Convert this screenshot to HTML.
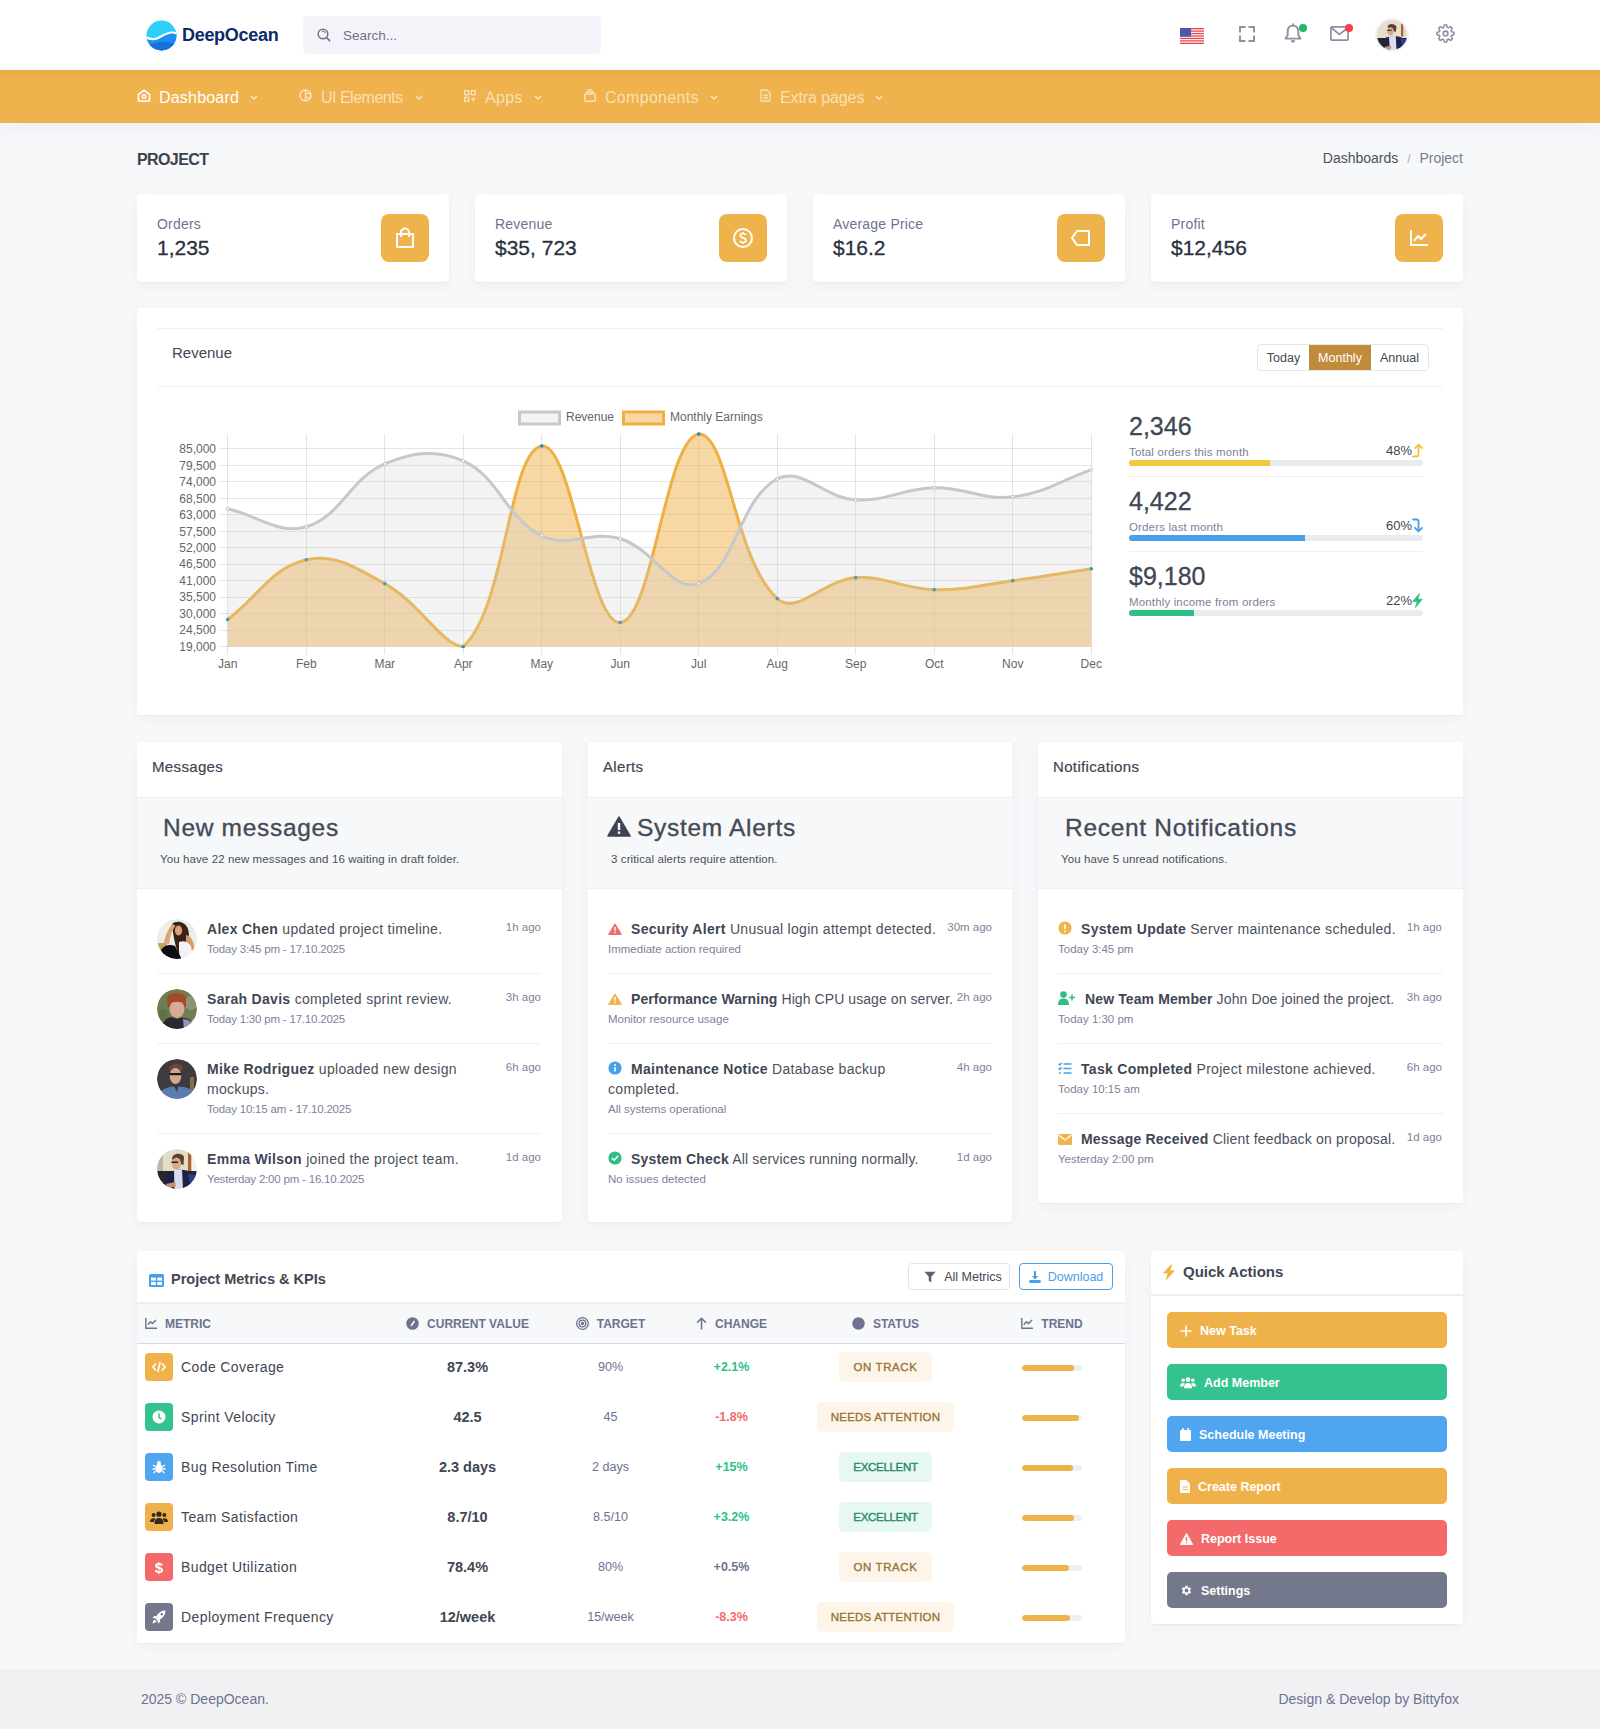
<!DOCTYPE html>
<html lang="en">
<head>
<meta charset="utf-8">
<title>DeepOcean - Project Dashboard</title>
<style>
*{box-sizing:border-box;margin:0;padding:0}
html,body{width:1600px;height:1729px;overflow:hidden}
body{font-family:"Liberation Sans",Arial,sans-serif;background:#f7f8fa;color:#3f4654;position:relative}
.abs{position:absolute}
#hdr{position:absolute;left:0;top:0;width:1600px;height:70px;background:#fff;z-index:2;box-shadow:0 2px 10px rgba(90,60,0,.07)}
#nav{position:absolute;left:0;top:70px;width:1600px;height:53px;background:#efb24c;z-index:1;box-shadow:0 6px 18px rgba(18,38,90,.045)}
.navt{position:absolute;top:19px;font-size:16px;color:rgba(255,255,255,.62);white-space:nowrap}
.chev{position:absolute;top:25px;width:8px;height:6px;fill:none;stroke:rgba(255,255,255,.7);stroke-width:1.3}
#footer{position:absolute;left:0;top:1669px;width:1600px;height:60px;background:#f1f1f4}
.card{position:absolute;background:#fff;border-radius:3px;box-shadow:0 1px 1px rgba(0,0,0,.035),0 0 1px rgba(0,0,0,.05),0 4px 14px rgba(18,38,63,.045)}
.lbl{position:absolute;left:20px;top:21.5px;font-size:14px;letter-spacing:0.2px;color:#6c7490}
.val{position:absolute;left:20px;top:42px;font-size:21px;color:#2b313c;-webkit-text-stroke:0.3px #2b313c}
.ibox{position:absolute;left:244px;top:20px;width:48px;height:48px;border-radius:8px;background:#efb34b;display:flex;align-items:center;justify-content:center}
.btng{display:flex;height:27px;border:1px solid #e3e6ea;border-radius:4px;overflow:hidden;font-size:12.5px;color:#3f4654}
.btng span{display:flex;align-items:center;justify-content:center;height:100%}
.btng span.on{background:#c08b3a;color:#fff}
.rs{width:294px;height:60px}
.rs .big{position:absolute;left:0;top:3.5px;font-size:25px;color:#3f4654;white-space:nowrap;-webkit-text-stroke:0.3px #3f4654}
.rs .sub{position:absolute;left:0;top:37.5px;font-size:11.5px;letter-spacing:0.15px;color:#7b8299;white-space:nowrap}
.rs .pct{position:absolute;right:0;top:35px;font-size:13px;color:#3f4654;display:flex;align-items:center;gap:0}
.rs .bar{position:absolute;left:0;top:52px;width:294px;height:6px;border-radius:3px;background:#e9ecef;overflow:hidden}
.rs .bar i{display:block;height:100%}
.ct{font-size:15px;letter-spacing:0.35px;color:#3f4654;-webkit-text-stroke:0.2px #3f4654}
.gz{height:92px;background:#f7f8fa;border-top:1px solid #eceef3;border-bottom:1px solid #eceef3}
.h2{font-size:24.5px;letter-spacing:0.7px;color:#444b57;white-space:nowrap;-webkit-text-stroke:0.35px #444b57}
.hs{font-size:11.5px;letter-spacing:0.1px;color:#495057;white-space:nowrap}
.avatar{width:40px;height:40px;border-radius:50%;overflow:hidden}
.it{font-size:14px;line-height:20px;letter-spacing:0.3px;color:#4a505c}
.it b{font-weight:700;color:#3f4654}
.it .ic{display:inline-block;vertical-align:-1px;margin-right:9px}
.it .ic svg{display:block}
.idt{font-size:11.5px;color:#7b8299;white-space:nowrap;line-height:18px}
.tm{font-size:11.5px;color:#7b8299;white-space:nowrap;line-height:14px}
.dv{height:1px;background:#eef0f5}
.tbtn{height:27px;border:1px solid;border-radius:4px;display:flex;align-items:center;justify-content:center;font-size:12.5px;font-weight:500;background:#fff}
.th{display:flex;align-items:center;height:14px;font-size:12px;font-weight:700;color:#6c7290;letter-spacing:0;white-space:nowrap}
.th svg{margin-right:8px}
.mi{width:28px;height:28px;border-radius:4px;display:flex;align-items:center;justify-content:center}
.mn{font-size:14px;letter-spacing:0.4px;color:#3f4654;line-height:20px;white-space:nowrap}
.mc{width:160px;text-align:center;line-height:20px;white-space:nowrap;display:flex;justify-content:center;align-items:center}
.cv{font-size:14.5px;font-weight:700;color:#3f4654}
.tg{font-size:12.5px;color:#6c7290}
.chg{font-size:12.5px;font-weight:700}
.badge{display:inline-flex;align-items:center;height:30px;padding:0 14px;border-radius:5px;font-size:11.5px;letter-spacing:0.6px;-webkit-text-stroke:0.35px currentColor}
.bt{background:#fdf5ea;color:#9a7433}
.be{background:#e7f7f1;color:#1f8a67}
.tb{width:60px;height:6px;border-radius:3px;background:#eef0f4;overflow:hidden}
.tb i{display:block;height:100%;background:#efb24b;border-radius:3px}
.qb{width:280px;height:36px;border-radius:5px;color:#fff;font-size:12.5px;font-weight:700;display:flex;align-items:center;padding-left:13px;padding-top:1px}
.qi{display:inline-flex;margin-right:8px}
.ft{position:absolute;top:1690.5px;line-height:16px;font-size:14px;color:#6c7290}


</style>
</head>
<body>
<div id="hdr">
  <svg class="abs" style="left:146px;top:20px" width="31" height="31" viewBox="0 0 31 31">
    <defs><clipPath id="lc"><circle cx="15.5" cy="15.5" r="15"/></clipPath></defs>
    <g clip-path="url(#lc)">
      <rect width="31" height="31" fill="#2ccff8"/>
      <path d="M0 18 C4 20 8 20.5 12 18.5 C17 16 21 13 26 13 C28 13 30 13.5 31 14 L31 31 L0 31Z" fill="#1b8ef2"/>
      <path d="M0 27 C6 23 13 21.5 20 22 C25 22.5 28 23.5 31 25 L31 31 L0 31Z" fill="#1670d8"/>
      <path d="M-1 17 C4 19.5 8 20 12 18 C17 15.5 21 12.5 26 12.5 C28 12.5 30 13 32 14" fill="none" stroke="#fff" stroke-width="2.2"/>
    </g>
  </svg>
  <div class="abs" style="left:182px;top:24.5px;font-size:18px;font-weight:700;color:#0c2a66;letter-spacing:-0.3px">DeepOcean</div>
  <div class="abs" style="left:303px;top:16px;width:298px;height:38px;background:#f3f3f9;border-radius:5px"></div>
  <svg class="abs" style="left:317px;top:28px" width="14" height="14" viewBox="0 0 14 14" fill="none" stroke="#6e7487" stroke-width="1.5"><circle cx="6" cy="6" r="4.8"/><path d="M9.6 9.6 L12.6 12.6" stroke-linecap="round"/><path d="M5 3.4 A2.8 2.8 0 0 1 8.4 5" stroke-width="1.1"/></svg>
  <div class="abs" style="left:343px;top:28px;font-size:13.5px;color:#6e7487">Search...</div>
  <!-- flag -->
  <svg class="abs" style="left:1180px;top:28px" width="24" height="16" viewBox="0 0 24 16">
    <rect width="24" height="16" fill="#fff"/>
    <g fill="#e8444b"><rect y="0" width="24" height="1.3"/><rect y="2.45" width="24" height="1.3"/><rect y="4.9" width="24" height="1.3"/><rect y="7.35" width="24" height="1.3"/><rect y="9.8" width="24" height="1.3"/><rect y="12.25" width="24" height="1.3"/><rect y="14.7" width="24" height="1.3"/></g>
    <rect width="11" height="8.6" fill="#4a58a8"/>
  </svg>
  <!-- fullscreen -->
  <svg class="abs" style="left:1238px;top:25px" width="18" height="18" viewBox="0 0 18 18" fill="none" stroke="#8c91a0" stroke-width="1.9"><path d="M2 7.5 V2 H7.5 M10.5 2 H16 V7.5 M16 10.5 V16 H10.5 M7.5 16 H2 V10.5"/></svg>
  <!-- bell -->
  <svg class="abs" style="left:1284px;top:23px" width="18" height="21" viewBox="0 0 18 21" fill="none" stroke="#8c91a0" stroke-width="1.9"><path d="M9 2.6 C5.6 2.6 3.7 5 3.7 8.5 V12.3 L1.5 15.6 H16.5 L14.3 12.3 V8.5 C14.3 5 12.4 2.6 9 2.6Z" stroke-linejoin="round"/><path d="M9 1.2 V2.6" stroke-linecap="round"/><path d="M7 17.8 L9 19.6 L11 17.8Z" fill="#8c91a0" stroke-width="1"/></svg>
  <div class="abs" style="left:1299px;top:24px;width:8px;height:8px;border-radius:50%;background:#22b36e"></div>
  <!-- mail -->
  <svg class="abs" style="left:1330px;top:26px" width="19" height="15" viewBox="0 0 19 15" fill="none" stroke="#8c91a0" stroke-width="1.7"><rect x="0.9" y="0.9" width="17.2" height="13.2" rx="1"/><path d="M1 1.5 L9.5 8.5 L18 1.5"/></svg>
  <div class="abs" style="left:1345px;top:24px;width:8px;height:8px;border-radius:50%;background:#f2404f"></div>
  <!-- avatar -->
  <div class="abs" style="left:1375px;top:18px;width:34px;height:34px;border-radius:50%;background:#f3f4f8"></div>
  <div class="abs" style="left:1377px;top:20px;width:30px;height:30px"><svg width="30" height="30" viewBox="0 0 40 40"><defs><clipPath id="hc4"><circle cx="20" cy="20" r="20"/></clipPath><filter id="hf4" x="-10%" y="-10%" width="120%" height="120%"><feGaussianBlur stdDeviation="0.7"/></filter></defs><g clip-path="url(#hc4)"><g filter="url(#hf4)"><rect x="-2" y="-2" width="44" height="44" fill="#e6dfcc"/><rect x="32" y="4" width="3" height="18" fill="#b0622a"/><rect x="-2" y="24" width="44" height="20" fill="#2a2a2c"/><path d="M14 9 C15 4 24 4 26 9 L25 16 L16 12Z" fill="#5a4030"/><ellipse cx="18" cy="15" rx="4.2" ry="5.5" fill="#d8a888"/><rect x="13.5" y="13" width="6" height="1.4" fill="#222"/><path d="M8 26 C12 22 28 20 34 24 L38 40 L6 40Z" fill="#1f2542"/><path d="M31 24 L40 26 L40 34 L33 34Z" fill="#2b3c8e"/><path d="M16 22 L25 21 L26 40 L17 40Z" fill="#dcdcf2"/><path d="M10 36 L18 34 L19 38 L11 40Z" fill="#c89070"/></g></g></svg></div>
  <!-- gear -->
  <svg class="abs" style="left:1436px;top:24px" width="19" height="19" viewBox="0 0 24 24" fill="none" stroke="#8c91a0" stroke-width="2"><circle cx="12" cy="12" r="3"/><path d="M19.4 15a1.65 1.65 0 0 0 .33 1.82l.06.06a2 2 0 0 1-2.83 2.83l-.06-.06a1.65 1.65 0 0 0-1.82-.33 1.65 1.65 0 0 0-1 1.51V21a2 2 0 0 1-4 0v-.09A1.65 1.65 0 0 0 9 19.4a1.65 1.65 0 0 0-1.82.33l-.06.06a2 2 0 0 1-2.83-2.83l.06-.06A1.65 1.65 0 0 0 4.68 15a1.65 1.65 0 0 0-1.51-1H3a2 2 0 0 1 0-4h.09A1.65 1.65 0 0 0 4.6 9a1.65 1.65 0 0 0-.33-1.82l-.06-.06a2 2 0 0 1 2.83-2.83l.06.06A1.65 1.65 0 0 0 9 4.68a1.65 1.65 0 0 0 1-1.51V3a2 2 0 0 1 4 0v.09a1.65 1.65 0 0 0 1 1.51 1.65 1.65 0 0 0 1.82-.33l.06-.06a2 2 0 0 1 2.83 2.83l-.06.06A1.65 1.65 0 0 0 19.4 9a1.65 1.65 0 0 0 1.51 1H21a2 2 0 0 1 0 4h-.09a1.65 1.65 0 0 0-1.51 1z"/></svg>
</div>

<div id="nav">
  <svg class="abs" style="left:137px;top:19px" width="14" height="13" viewBox="0 0 14 13" fill="none" stroke="#fff" stroke-width="1.6"><path d="M1.5 5.5 L7 1.2 L12.5 5.5 V12 H1.5Z" stroke-linejoin="round"/><circle cx="7" cy="7.5" r="1.7"/></svg>
  <div class="navt" style="left:159px;color:#fff;letter-spacing:0.2px">Dashboard</div>
  <svg class="chev" style="left:250px"><path d="M1 1 L4 4 L7 1"/></svg>
  <svg class="abs" style="left:299px;top:19px" width="13" height="13" viewBox="0 0 13 13" fill="none" stroke="rgba(255,255,255,.6)" stroke-width="1.5"><circle cx="6.5" cy="6.5" r="5.5"/><path d="M6.5 1 V12 M6.5 4.5 H11.5 M6.5 8.5 H11.5"/></svg>
  <div class="navt" style="left:321px;letter-spacing:-0.5px">UI Elements</div>
  <svg class="chev" style="left:415px"><path d="M1 1 L4 4 L7 1"/></svg>
  <svg class="abs" style="left:464px;top:20px" width="12" height="12" viewBox="0 0 12 12" fill="none" stroke="rgba(255,255,255,.6)" stroke-width="1.4"><rect x="0.7" y="0.7" width="4" height="4"/><rect x="7.3" y="0.7" width="4" height="4"/><rect x="0.7" y="7.3" width="4" height="4"/><path d="M7.3 9.3 H11.3 M9.3 7.3 V11.3"/></svg>
  <div class="navt" style="left:485px;letter-spacing:0.3px">Apps</div>
  <svg class="chev" style="left:534px"><path d="M1 1 L4 4 L7 1"/></svg>
  <svg class="abs" style="left:584px;top:19px" width="12" height="13" viewBox="0 0 12 13" fill="none" stroke="rgba(255,255,255,.6)" stroke-width="1.4"><rect x="0.7" y="5" width="10.6" height="7.3" rx="1"/><path d="M2 3 H10 M3.5 1 H8.5"/></svg>
  <div class="navt" style="left:605px;letter-spacing:0.3px">Components</div>
  <svg class="chev" style="left:710px"><path d="M1 1 L4 4 L7 1"/></svg>
  <svg class="abs" style="left:760px;top:19px" width="11" height="13" viewBox="0 0 11 13" fill="none" stroke="rgba(255,255,255,.6)" stroke-width="1.3"><path d="M1 1 H7 L10 4 V12 H1Z"/><path d="M3 6.5 H8 M3 9 H8"/></svg>
  <div class="navt" style="left:780px;letter-spacing:-0.1px">Extra pages</div>
  <svg class="chev" style="left:875px"><path d="M1 1 L4 4 L7 1"/></svg>
</div>

<div class="abs" style="left:137px;top:150.5px;font-size:16px;font-weight:700;color:#3b414d;letter-spacing:-0.6px">PROJECT</div>
<div class="abs" style="left:1200px;width:263px;top:150px;text-align:right;font-size:14px;color:#495057">Dashboards <span style="color:#a0a6b4;margin:0 5px;font-size:12px">/</span> <span style="color:#747b8e">Project</span></div>

<div class="card" style="left:137px;top:194px;width:312px;height:88px">
  <div class="lbl">Orders</div><div class="val">1,235</div>
  <div class="ibox"><svg width="20" height="22" viewBox="0 0 20 22" fill="none" stroke="#fff" stroke-width="2"><rect x="2" y="7" width="16" height="13"/><path d="M6 10 V5.5 A4 4 0 0 1 14 5.5 V10"/></svg></div>
</div>
<div class="card" style="left:475px;top:194px;width:312px;height:88px">
  <div class="lbl">Revenue</div><div class="val">$35, 723</div>
  <div class="ibox"><svg width="22" height="22" viewBox="0 0 22 22" fill="none" stroke="#fff" stroke-width="2"><circle cx="11" cy="11" r="9"/><path d="M13.8 8 C13.3 7 12.3 6.5 11 6.5 C9.3 6.5 8.3 7.4 8.3 8.6 C8.3 11.4 13.9 10.3 13.9 13.3 C13.9 14.6 12.8 15.5 11 15.5 C9.6 15.5 8.5 14.9 8 13.8 M11 5 V6.5 M11 15.5 V17" stroke-width="1.7"/></svg></div>
</div>
<div class="card" style="left:813px;top:194px;width:312px;height:88px">
  <div class="lbl">Average Price</div><div class="val">$16.2</div>
  <div class="ibox"><svg width="22" height="18" viewBox="0 0 22 18" fill="none" stroke="#fff" stroke-width="2" stroke-linejoin="round"><path d="M7 2 H19 V16 H7 L2 9Z"/></svg></div>
</div>
<div class="card" style="left:1151px;top:194px;width:312px;height:88px">
  <div class="lbl">Profit</div><div class="val">$12,456</div>
  <div class="ibox"><svg width="20" height="18" viewBox="0 0 20 18" fill="none" stroke="#fff" stroke-width="2"><path d="M2 1 V16 H19"/><path d="M5 12 L9 7 L12 10 L17 5" stroke-linejoin="round"/></svg></div>
</div>

<div class="card" style="left:137px;top:308px;width:1326px;height:407px">
  <div class="abs" style="left:20px;top:20px;width:1286px;height:1px;background:#eef0f5"></div>
  <div class="abs" style="left:20px;top:78px;width:1286px;height:1px;background:#eef0f5"></div>
  <div class="abs" style="left:35px;top:36px;font-size:15px;font-weight:500;color:#414855">Revenue</div>
  <div class="abs btng" style="left:1120px;top:36px">
    <span style="width:51px">Today</span><span class="on" style="width:62px">Monthly</span><span style="width:57px">Annual</span>
  </div>
</div>

<svg class="abs" style="left:0;top:0" width="1600" height="720" viewBox="0 0 1600 720">
<g stroke="rgba(0,0,0,0.1)" stroke-width="1" fill="none">
<line x1="219.5" y1="646.5" x2="1091.5" y2="646.5"/>
<line x1="219.5" y1="630.5" x2="1091.5" y2="630.5"/>
<line x1="219.5" y1="613.5" x2="1091.5" y2="613.5"/>
<line x1="219.5" y1="597.5" x2="1091.5" y2="597.5"/>
<line x1="219.5" y1="580.5" x2="1091.5" y2="580.5"/>
<line x1="219.5" y1="564.5" x2="1091.5" y2="564.5"/>
<line x1="219.5" y1="547.5" x2="1091.5" y2="547.5"/>
<line x1="219.5" y1="531.5" x2="1091.5" y2="531.5"/>
<line x1="219.5" y1="514.5" x2="1091.5" y2="514.5"/>
<line x1="219.5" y1="498.5" x2="1091.5" y2="498.5"/>
<line x1="219.5" y1="481.5" x2="1091.5" y2="481.5"/>
<line x1="219.5" y1="465.5" x2="1091.5" y2="465.5"/>
<line x1="219.5" y1="448.5" x2="1091.5" y2="448.5"/>
<line x1="227.5" y1="434" x2="227.5" y2="654.5"/>
<line x1="306.5" y1="434" x2="306.5" y2="654.5"/>
<line x1="384.5" y1="434" x2="384.5" y2="654.5"/>
<line x1="463.5" y1="434" x2="463.5" y2="654.5"/>
<line x1="541.5" y1="434" x2="541.5" y2="654.5"/>
<line x1="620.5" y1="434" x2="620.5" y2="654.5"/>
<line x1="698.5" y1="434" x2="698.5" y2="654.5"/>
<line x1="777.5" y1="434" x2="777.5" y2="654.5"/>
<line x1="855.5" y1="434" x2="855.5" y2="654.5"/>
<line x1="934.5" y1="434" x2="934.5" y2="654.5"/>
<line x1="1012.5" y1="434" x2="1012.5" y2="654.5"/>
<line x1="1091.5" y1="434" x2="1091.5" y2="654.5"/>
</g>
<g font-family="Liberation Sans, Arial, sans-serif" font-size="12" fill="#666" text-anchor="end">
<text x="216" y="650.7">19,000</text>
<text x="216" y="634.2">24,500</text>
<text x="216" y="617.8">30,000</text>
<text x="216" y="601.3">35,500</text>
<text x="216" y="584.9">41,000</text>
<text x="216" y="568.4">46,500</text>
<text x="216" y="551.9">52,000</text>
<text x="216" y="535.5">57,500</text>
<text x="216" y="519.0">63,000</text>
<text x="216" y="502.5">68,500</text>
<text x="216" y="486.1">74,000</text>
<text x="216" y="469.6">79,500</text>
<text x="216" y="453.2">85,000</text>
</g>
<g font-family="Liberation Sans, Arial, sans-serif" font-size="12" fill="#666" text-anchor="middle">
<text x="227.75" y="668">Jan</text>
<text x="306.25" y="668">Feb</text>
<text x="384.75" y="668">Mar</text>
<text x="463.25" y="668">Apr</text>
<text x="541.75" y="668">May</text>
<text x="620.25" y="668">Jun</text>
<text x="698.75" y="668">Jul</text>
<text x="777.25" y="668">Aug</text>
<text x="855.75" y="668">Sep</text>
<text x="934.25" y="668">Oct</text>
<text x="1012.75" y="668">Nov</text>
<text x="1091.25" y="668">Dec</text>
</g>
<path d="M227.75 619.56 C259.15 595.62 271.96 567.55 306.25 559.70 C334.76 553.18 356.53 568.05 384.75 583.65 C419.33 602.76 443.26 646.50 463.25 646.50 C506.06 608.96 508.65 451.02 541.75 445.97 C571.45 441.44 589.72 624.88 620.25 622.56 C652.52 620.10 665.57 439.06 698.75 434.00 C728.37 434.00 733.80 558.86 777.25 598.61 C796.60 616.32 823.99 579.48 855.75 577.66 C886.79 575.89 902.77 589.03 934.25 589.63 C965.57 590.23 981.43 584.83 1012.75 580.65 C1044.23 576.45 1059.85 573.47 1091.25 568.68 L1091.25 646.50 L227.75 646.50 Z" fill="rgba(239,178,75,0.5)"/>
<path d="M227.75 619.56 C259.15 595.62 271.96 567.55 306.25 559.70 C334.76 553.18 356.53 568.05 384.75 583.65 C419.33 602.76 443.26 646.50 463.25 646.50 C506.06 608.96 508.65 451.02 541.75 445.97 C571.45 441.44 589.72 624.88 620.25 622.56 C652.52 620.10 665.57 439.06 698.75 434.00 C728.37 434.00 733.80 558.86 777.25 598.61 C796.60 616.32 823.99 579.48 855.75 577.66 C886.79 575.89 902.77 589.03 934.25 589.63 C965.57 590.23 981.43 584.83 1012.75 580.65 C1044.23 576.45 1059.85 573.47 1091.25 568.68" fill="none" stroke="#efb041" stroke-width="3"/>
<circle cx="227.75" cy="619.56" r="1.8" fill="#1390bd"/>
<circle cx="306.25" cy="559.70" r="1.8" fill="#1390bd"/>
<circle cx="384.75" cy="583.65" r="1.8" fill="#1390bd"/>
<circle cx="463.25" cy="646.50" r="1.8" fill="#1390bd"/>
<circle cx="541.75" cy="445.97" r="1.8" fill="#1390bd"/>
<circle cx="620.25" cy="622.56" r="1.8" fill="#1390bd"/>
<circle cx="698.75" cy="434.00" r="1.8" fill="#1390bd"/>
<circle cx="777.25" cy="598.61" r="1.8" fill="#1390bd"/>
<circle cx="855.75" cy="577.66" r="1.8" fill="#1390bd"/>
<circle cx="934.25" cy="589.63" r="1.8" fill="#1390bd"/>
<circle cx="1012.75" cy="580.65" r="1.8" fill="#1390bd"/>
<circle cx="1091.25" cy="568.68" r="1.8" fill="#1390bd"/>
<path d="M227.75 508.82 C259.15 516.01 278.32 534.77 306.25 526.78 C341.12 516.81 349.49 478.72 384.75 463.93 C412.29 452.38 436.87 448.87 463.25 460.94 C499.67 477.60 505.33 517.71 541.75 535.76 C568.13 548.84 591.06 529.85 620.25 538.75 C653.86 549.00 673.09 593.43 698.75 583.65 C735.89 569.49 738.50 499.58 777.25 478.89 C801.30 466.06 823.99 498.03 855.75 499.85 C886.79 501.62 902.77 488.47 934.25 487.87 C965.57 487.28 982.12 500.36 1012.75 496.85 C1044.92 493.17 1059.85 480.69 1091.25 469.92 L1091.25 646.50 L227.75 646.50 Z" fill="rgba(207,207,207,0.25)"/>
<path d="M227.75 508.82 C259.15 516.01 278.32 534.77 306.25 526.78 C341.12 516.81 349.49 478.72 384.75 463.93 C412.29 452.38 436.87 448.87 463.25 460.94 C499.67 477.60 505.33 517.71 541.75 535.76 C568.13 548.84 591.06 529.85 620.25 538.75 C653.86 549.00 673.09 593.43 698.75 583.65 C735.89 569.49 738.50 499.58 777.25 478.89 C801.30 466.06 823.99 498.03 855.75 499.85 C886.79 501.62 902.77 488.47 934.25 487.87 C965.57 487.28 982.12 500.36 1012.75 496.85 C1044.92 493.17 1059.85 480.69 1091.25 469.92" fill="none" stroke="#c5c8cc" stroke-width="3"/>
<circle cx="227.75" cy="508.82" r="1.5" fill="#fff" stroke="#bbb" stroke-width="0.8"/>
<circle cx="306.25" cy="526.78" r="1.5" fill="#fff" stroke="#bbb" stroke-width="0.8"/>
<circle cx="384.75" cy="463.93" r="1.5" fill="#fff" stroke="#bbb" stroke-width="0.8"/>
<circle cx="463.25" cy="460.94" r="1.5" fill="#fff" stroke="#bbb" stroke-width="0.8"/>
<circle cx="541.75" cy="535.76" r="1.5" fill="#fff" stroke="#bbb" stroke-width="0.8"/>
<circle cx="620.25" cy="538.75" r="1.5" fill="#fff" stroke="#bbb" stroke-width="0.8"/>
<circle cx="698.75" cy="583.65" r="1.5" fill="#fff" stroke="#bbb" stroke-width="0.8"/>
<circle cx="777.25" cy="478.89" r="1.5" fill="#fff" stroke="#bbb" stroke-width="0.8"/>
<circle cx="855.75" cy="499.85" r="1.5" fill="#fff" stroke="#bbb" stroke-width="0.8"/>
<circle cx="934.25" cy="487.87" r="1.5" fill="#fff" stroke="#bbb" stroke-width="0.8"/>
<circle cx="1012.75" cy="496.85" r="1.5" fill="#fff" stroke="#bbb" stroke-width="0.8"/>
<circle cx="1091.25" cy="469.92" r="1.5" fill="#fff" stroke="#bbb" stroke-width="0.8"/>
<rect x="519.5" y="412" width="40" height="12" fill="rgba(207,207,207,0.25)" stroke="#c5c8cc" stroke-width="3"/>
<text x="566" y="421" font-family="Liberation Sans, Arial, sans-serif" font-size="12" fill="#666">Revenue</text>
<rect x="623.5" y="412" width="40" height="12" fill="rgba(239,178,75,0.5)" stroke="#efb041" stroke-width="3"/>
<text x="670" y="421" font-family="Liberation Sans, Arial, sans-serif" font-size="12" fill="#666">Monthly Earnings</text>
</svg>
<div class="abs rs" style="left:1129px;top:408px">
  <div class="big">2,346</div>
  <div class="sub">Total orders this month</div>
  <div class="pct">48%<svg width="11" height="15" viewBox="0 0 11 15" fill="none" stroke="#f1c23a" stroke-width="1.8" stroke-linecap="round" stroke-linejoin="round"><path d="M1 13.5 H4.5 Q6.5 13.5 6.5 11.5 V1.8 M3 5.2 L6.5 1.6 L10 5.2"/></svg></div>
  <div class="bar"><i style="width:48%;background:#f0c93c"></i></div>
</div>
<div class="abs" style="left:1129px;top:476px;width:294px;height:1px;background:#eef0f4"></div>
<div class="abs rs" style="left:1129px;top:483px">
  <div class="big">4,422</div>
  <div class="sub">Orders last month</div>
  <div class="pct">60%<svg width="11" height="15" viewBox="0 0 11 15" fill="none" stroke="#4a9fea" stroke-width="1.8" stroke-linecap="round" stroke-linejoin="round"><path d="M1 1.5 H4.5 Q6.5 1.5 6.5 3.5 V13.2 M3 9.8 L6.5 13.4 L10 9.8"/></svg></div>
  <div class="bar"><i style="width:60%;background:#4a9fea"></i></div>
</div>
<div class="abs" style="left:1129px;top:551px;width:294px;height:1px;background:#eef0f4"></div>
<div class="abs rs" style="left:1129px;top:558px">
  <div class="big">$9,180</div>
  <div class="sub">Monthly income from orders</div>
  <div class="pct">22%<svg width="11" height="15" viewBox="0 0 11 15"><path d="M7.5 0.3 L0.6 8.6 H5 L3.4 14.7 L10.4 6.2 H6Z" fill="#2fbf85" stroke="#2fbf85" stroke-width="0.6" stroke-linejoin="round"/></svg></div>
  <div class="bar"><i style="width:22%;background:#2fbf85"></i></div>
</div>

<div class="card" style="left:137px;top:742px;width:425px;height:480px"></div>
<div class="abs ct" style="left:152px;top:758px">Messages</div>
<div class="abs gz" style="left:137px;top:797px;width:425px"></div>
<div class="abs h2" style="left:163px;top:814px">New messages</div>
<div class="abs hs" style="left:160px;top:853px">You have 22 new messages and 16 waiting in draft folder.</div>
<div class="abs avatar" style="left:157px;top:919px"><svg width="40" height="40" viewBox="0 0 40 40"><defs><clipPath id="c1"><circle cx="20" cy="20" r="20"/></clipPath><filter id="f1" x="-10%" y="-10%" width="120%" height="120%"><feGaussianBlur stdDeviation="0.5"/></filter></defs><g clip-path="url(#c1)"><g filter="url(#f1)"><rect x="-2" y="-2" width="44" height="44" fill="#eceee6"/><circle cx="8" cy="12" r="6" fill="#f3efe6"/><circle cx="32" cy="8" r="6" fill="#e6ece8"/><rect x="-2" y="24" width="12" height="16" fill="#c9a55a"/><path d="M15 5 C19 1 28 2 31 10 C33 18 32 26 28 32 L21 34 C18 26 16 16 15 5Z" fill="#3b2316"/><ellipse cx="21.5" cy="11.5" rx="3.6" ry="5" fill="#d9a27c"/><path d="M7 24 C8 16 12 8 16 5 L18.5 7 C15 11 13 17 12 25Z" fill="#dba57c"/><path d="M29 16 C34 17 37 22 37 30 L33 32 L29 24Z" fill="#d39a70"/><path d="M4 31 C7 26 13 25 18 27 L26 42 L4 42Z" fill="#111117"/><path d="M22 23 C27 21 31 23 34 27 L36 42 L25 42 L22 32Z" fill="#f5f2f7"/></g></g></svg></div>
<div class="abs it" style="left:207px;top:919px;width:290px"><b>Alex Chen</b> updated project timeline.</div>
<div class="abs idt" style="left:207px;top:940px;letter-spacing:-0.2px">Today 3:45 pm - 17.10.2025</div>
<div class="abs tm" style="right:1059px;top:920px">1h ago</div>
<div class="abs dv" style="left:157px;top:973px;width:384px"></div>
<div class="abs avatar" style="left:157px;top:989px"><svg width="40" height="40" viewBox="0 0 40 40"><defs><clipPath id="c2"><circle cx="20" cy="20" r="20"/></clipPath><filter id="f2" x="-10%" y="-10%" width="120%" height="120%"><feGaussianBlur stdDeviation="0.5"/></filter></defs><g clip-path="url(#c2)"><g filter="url(#f2)"><rect x="-2" y="-2" width="44" height="44" fill="#6f7d4f"/><circle cx="34" cy="14" r="7" fill="#8d9475"/><circle cx="6" cy="26" r="6" fill="#5f7240"/><path d="M10 9 C12 3 26 2 29 8 L29 18 L11 18Z" fill="#a4492a"/><ellipse cx="20" cy="20" rx="7.5" ry="9" fill="#d9a995"/><path d="M11 9 C14 5 27 5 29 10 L28 15 C24 12 16 12 12 15Z" fill="#a4492a"/><path d="M6 34 C10 28 14 27 20 30 C24 28 30 28 34 32 L34 42 L6 42Z" fill="#2a2830"/><path d="M26 30 C31 30 36 33 38 38 L38 42 L27 42Z" fill="#9197b6"/><circle cx="37" cy="32" r="2.2" fill="#f070c0"/></g></g></svg></div>
<div class="abs it" style="left:207px;top:989px;width:290px"><b>Sarah Davis</b> completed sprint review.</div>
<div class="abs idt" style="left:207px;top:1010px;letter-spacing:-0.2px">Today 1:30 pm - 17.10.2025</div>
<div class="abs tm" style="right:1059px;top:990px">3h ago</div>
<div class="abs dv" style="left:157px;top:1043px;width:384px"></div>
<div class="abs avatar" style="left:157px;top:1059px"><svg width="40" height="40" viewBox="0 0 40 40"><defs><clipPath id="c3"><circle cx="20" cy="20" r="20"/></clipPath><filter id="f3" x="-10%" y="-10%" width="120%" height="120%"><feGaussianBlur stdDeviation="0.5"/></filter></defs><g clip-path="url(#c3)"><g filter="url(#f3)"><rect x="-2" y="-2" width="44" height="44" fill="#3c3b3d"/><rect x="33" y="18" width="4" height="14" fill="#8a6a48"/><path d="M12 10 C12 4 24 3 26 8 L25 12 L13 13Z" fill="#6b4a32"/><ellipse cx="18.5" cy="17" rx="5.8" ry="8" fill="#d3a690"/><rect x="12.5" y="14" width="12" height="2.2" fill="#1f1a18"/><path d="M2 34 C8 28 14 27 19 28 C25 27 31 28 36 32 L36 44 L2 44Z" fill="#5b7bae"/><path d="M17 27 L21 27 L20 33Z" fill="#2c3850"/></g></g></svg></div>
<div class="abs it" style="left:207px;top:1059px;width:290px"><b>Mike Rodriguez</b> uploaded new design mockups.</div>
<div class="abs idt" style="left:207px;top:1100px;letter-spacing:-0.2px">Today 10:15 am - 17.10.2025</div>
<div class="abs tm" style="right:1059px;top:1060px">6h ago</div>
<div class="abs dv" style="left:157px;top:1133px;width:384px"></div>
<div class="abs avatar" style="left:157px;top:1149px"><svg width="40" height="40" viewBox="0 0 40 40"><defs><clipPath id="c4"><circle cx="20" cy="20" r="20"/></clipPath><filter id="f4" x="-10%" y="-10%" width="120%" height="120%"><feGaussianBlur stdDeviation="0.5"/></filter></defs><g clip-path="url(#c4)"><g filter="url(#f4)"><rect x="-2" y="-2" width="44" height="44" fill="#e4dcc8"/><rect x="-2" y="-2" width="8" height="30" fill="#bdb6a8"/><rect x="31" y="3" width="3.5" height="20" fill="#b0622a"/><rect x="34.5" y="3" width="8" height="20" fill="#f4f2ee"/><rect x="-2" y="22" width="44" height="22" fill="#262628"/><path d="M15 10 C15 4 25 3 27 8 L26.5 16 L17 13Z" fill="#5a4030"/><ellipse cx="19.5" cy="14.5" rx="4.6" ry="6" fill="#d8a888"/><rect x="14.5" y="12.5" width="6.5" height="1.5" fill="#222"/><path d="M9 26 C13 21 27 19 33 23 L37 42 L7 42Z" fill="#1d2342"/><path d="M31 25 L42 26 L42 36 L33 36Z" fill="#2b3c8e"/><path d="M17 21 L25 20.5 L26 42 L17.5 42Z" fill="#d9d9f0"/><path d="M9 35 L18 33 L19 37 L11 40Z" fill="#c89070"/></g></g></svg></div>
<div class="abs it" style="left:207px;top:1149px;width:290px"><b>Emma Wilson</b> joined the project team.</div>
<div class="abs idt" style="left:207px;top:1170px;letter-spacing:-0.2px">Yesterday 2:00 pm - 16.10.2025</div>
<div class="abs tm" style="right:1059px;top:1150px">1d ago</div>
<div class="card" style="left:588px;top:742px;width:424px;height:480px"></div>
<div class="abs ct" style="left:603px;top:758px">Alerts</div>
<div class="abs gz" style="left:588px;top:797px;width:424px"></div>
<div class="abs h2" style="left:607px;top:814px"><svg width="24" height="21" viewBox="0 0 24 21" style="margin:0 6px 0 0;vertical-align:-1px"><path d="M12 1.2 L23 20 H1Z" fill="#3e4452" stroke="#3e4452" stroke-width="1.6" stroke-linejoin="round"/><rect x="10.8" y="7" width="2.4" height="7" fill="#f7f8fa"/><rect x="10.8" y="15.5" width="2.4" height="2.4" fill="#f7f8fa"/></svg>System Alerts</div>
<div class="abs hs" style="left:611px;top:853px">3 critical alerts require attention.</div>
<div class="abs it" style="left:608px;top:919px;white-space:nowrap;letter-spacing:0.3px"><span class="ic"><svg width="14" height="12" viewBox="0 0 14 12"><path d="M7 0.8 L13.4 11.4 H0.6Z" fill="#f46a6a" stroke="#f46a6a" stroke-linejoin="round"/><rect x="6.3" y="4" width="1.4" height="3.8" fill="#fff"/><rect x="6.3" y="8.7" width="1.4" height="1.4" fill="#fff"/></svg></span><b>Security Alert</b> Unusual login attempt detected.</div>
<div class="abs idt" style="left:608px;top:940px">Immediate action required</div>
<div class="abs tm" style="right:608px;top:920px">30m ago</div>
<div class="abs dv" style="left:608px;top:973px;width:384px"></div>
<div class="abs it" style="left:608px;top:989px;white-space:nowrap;letter-spacing:0.08px"><span class="ic"><svg width="14" height="12" viewBox="0 0 14 12"><path d="M7 0.8 L13.4 11.4 H0.6Z" fill="#f1b44c" stroke="#f1b44c" stroke-linejoin="round"/><rect x="6.3" y="4" width="1.4" height="3.8" fill="#fff"/><rect x="6.3" y="8.7" width="1.4" height="1.4" fill="#fff"/></svg></span><b>Performance Warning</b> High CPU usage on server.</div>
<div class="abs idt" style="left:608px;top:1010px">Monitor resource usage</div>
<div class="abs tm" style="right:608px;top:990px">2h ago</div>
<div class="abs dv" style="left:608px;top:1043px;width:384px"></div>
<div class="abs it" style="left:608px;top:1059px;white-space:nowrap;letter-spacing:0.3px"><span class="ic"><svg width="14" height="14" viewBox="0 0 14 14"><circle cx="7" cy="7" r="6.6" fill="#4a9fea"/><rect x="6.2" y="6" width="1.6" height="4.5" fill="#fff"/><circle cx="7" cy="4" r="0.95" fill="#fff"/></svg></span><b>Maintenance Notice</b> Database backup<br>completed.</div>
<div class="abs idt" style="left:608px;top:1100px">All systems operational</div>
<div class="abs tm" style="right:608px;top:1060px">4h ago</div>
<div class="abs dv" style="left:608px;top:1133px;width:384px"></div>
<div class="abs it" style="left:608px;top:1149px;white-space:nowrap;letter-spacing:0.18px"><span class="ic"><svg width="14" height="14" viewBox="0 0 14 14"><circle cx="7" cy="7" r="6.6" fill="#2fbf85"/><path d="M4 7.2 L6.2 9.2 L10 5" fill="none" stroke="#fff" stroke-width="1.6"/></svg></span><b>System Check</b> All services running normally.</div>
<div class="abs idt" style="left:608px;top:1170px">No issues detected</div>
<div class="abs tm" style="right:608px;top:1150px">1d ago</div>
<div class="card" style="left:1038px;top:742px;width:425px;height:461px"></div>
<div class="abs ct" style="left:1053px;top:758px">Notifications</div>
<div class="abs gz" style="left:1038px;top:797px;width:425px"></div>
<div class="abs h2" style="left:1065px;top:814px">Recent Notifications</div>
<div class="abs hs" style="left:1061px;top:853px">You have 5 unread notifications.</div>
<div class="abs it" style="left:1058px;top:919px;width:345px;white-space:nowrap;letter-spacing:0.3px"><span class="ic" style="margin-right:9px"><svg width="14" height="14" viewBox="0 0 14 14"><circle cx="7" cy="7" r="6.6" fill="#f1b44c"/><rect x="6.2" y="3.3" width="1.6" height="4.8" fill="#fff"/><circle cx="7" cy="10.2" r="0.95" fill="#fff"/></svg></span><b>System Update</b> Server maintenance scheduled.</div>
<div class="abs idt" style="left:1058px;top:940px">Today 3:45 pm</div>
<div class="abs tm" style="right:158px;top:920px">1h ago</div>
<div class="abs dv" style="left:1058px;top:973px;width:385px"></div>
<div class="abs it" style="left:1058px;top:989px;width:345px;white-space:nowrap;letter-spacing:0.12px"><span class="ic" style="margin-right:9px"><svg width="18" height="14" viewBox="0 0 18 14"><circle cx="5.5" cy="3.6" r="3.3" fill="#2fbf85"/><path d="M0 14 C0 9 2.5 7.6 5.5 7.6 C8.5 7.6 11 9 11 14Z" fill="#2fbf85"/><path d="M14 3.5 V9.5 M11 6.5 H17" stroke="#2fbf85" stroke-width="1.6"/></svg></span><b>New Team Member</b> John Doe joined the project.</div>
<div class="abs idt" style="left:1058px;top:1010px">Today 1:30 pm</div>
<div class="abs tm" style="right:158px;top:990px">3h ago</div>
<div class="abs dv" style="left:1058px;top:1043px;width:385px"></div>
<div class="abs it" style="left:1058px;top:1059px;width:345px;white-space:nowrap;letter-spacing:0.3px"><span class="ic" style="margin-right:9px"><svg width="14" height="13" viewBox="0 0 14 13" fill="none" stroke="#4a9fea" stroke-width="1.4"><path d="M0.6 1.8 L1.8 3 L3.8 0.8 M0.6 6.3 L1.8 7.5 L3.8 5.3"/><path d="M5.5 2 H13.5 M5.5 6.5 H13.5 M5.5 11 H13.5"/><circle cx="2" cy="11" r="1" fill="#4a9fea" stroke="none"/></svg></span><b>Task Completed</b> Project milestone achieved.</div>
<div class="abs idt" style="left:1058px;top:1080px">Today 10:15 am</div>
<div class="abs tm" style="right:158px;top:1060px">6h ago</div>
<div class="abs dv" style="left:1058px;top:1113px;width:385px"></div>
<div class="abs it" style="left:1058px;top:1129px;width:345px;white-space:nowrap;letter-spacing:0.19px"><span class="ic" style="margin-right:9px"><svg width="14" height="11" viewBox="0 0 14 11"><rect x="0" y="0" width="14" height="11" rx="1.2" fill="#f1b44c"/><path d="M0.5 1 L7 6 L13.5 1" fill="none" stroke="#fff" stroke-width="1.2"/></svg></span><b>Message Received</b> Client feedback on proposal.</div>
<div class="abs idt" style="left:1058px;top:1150px">Yesterday 2:00 pm</div>
<div class="abs tm" style="right:158px;top:1130px">1d ago</div>
<div class="card" style="left:137px;top:1251px;width:988px;height:392px;overflow:hidden"><div class="abs" style="left:0;top:-1px;width:988px;height:393px">
<div class="abs" style="left:12px;top:23px"><svg width="15" height="13" viewBox="0 0 15 13"><rect x="0" y="0" width="15" height="13" rx="1.5" fill="#4a9fea"/><rect x="2" y="3.6" width="4.8" height="3" fill="#fff"/><rect x="8.2" y="3.6" width="4.8" height="3" fill="#fff"/><rect x="2" y="8" width="4.8" height="3" fill="#fff"/><rect x="8.2" y="8" width="4.8" height="3" fill="#fff"/></svg></div>
<div class="abs" style="left:34px;top:21px;font-size:14.5px;font-weight:700;color:#414855">Project Metrics &amp; KPIs</div>
<div class="abs tbtn" style="left:771px;top:13px;width:102px;padding-left:8px;color:#414855;border-color:#dfe2e8"><svg width="12" height="12" viewBox="0 0 12 12" style="margin-right:8px"><path d="M0.5 0.8 H11.5 L7.3 5.8 V11.5 L4.7 9.8 V5.8Z" fill="#5c6270"/></svg>All Metrics</div>
<div class="abs tbtn" style="left:882px;top:13px;width:94px;color:#4a9fea;border-color:#4a9fea"><svg width="12" height="12" viewBox="0 0 12 12" style="margin-right:7px" fill="#4a9fea"><path d="M5 0 H7 V5 H9.2 L6 8.4 L2.8 5 H5Z"/><rect x="0.3" y="9" width="11.4" height="3" rx="0.8"/></svg>Download</div>
<div class="abs" style="left:0;top:52px;width:988px;height:2px;background:#eef0f5"></div>
<div class="abs" style="left:0;top:54px;width:988px;height:39.5px;background:#f7f8fa;border-bottom:1.5px solid #d5d9e0"></div>
<div class="abs th" style="left:8px;top:66.5px"><svg width="12" height="11" viewBox="0 0 12 11" fill="none" stroke="#6c7290" stroke-width="1.4"><path d="M0.8 0 V10.2 H12"/><path d="M2.8 6.8 L5.5 3.8 L7.5 5.6 L11 2"/></svg><span>METRIC</span></div>
<div class="abs th" style="left:180.5px;width:300px;justify-content:center;top:66.5px"><svg width="13" height="13" viewBox="0 0 13 13"><circle cx="6.5" cy="6.5" r="6.3" fill="#6c7290"/><path d="M5 9 L8.5 4" stroke="#fff" stroke-width="1.5"/></svg><span>CURRENT VALUE</span></div>
<div class="abs th" style="left:323.5px;width:300px;justify-content:center;top:66.5px"><svg width="13" height="13" viewBox="0 0 13 13" fill="none" stroke="#6c7290" stroke-width="1.3"><circle cx="6.5" cy="6.5" r="5.8"/><circle cx="6.5" cy="6.5" r="3.3"/><circle cx="6.5" cy="6.5" r="1" fill="#6c7290"/></svg><span>TARGET</span></div>
<div class="abs th" style="left:444.5px;width:300px;justify-content:center;top:66.5px"><svg width="11" height="13" viewBox="0 0 11 13" fill="none" stroke="#6c7290" stroke-width="1.5"><path d="M5.5 12.5 V1.5 M1.2 5.6 L5.5 1.3 L9.8 5.6"/></svg><span>CHANGE</span></div>
<div class="abs th" style="left:598.5px;width:300px;justify-content:center;top:66.5px"><svg width="13" height="13" viewBox="0 0 13 13"><circle cx="6.5" cy="6.5" r="6.2" fill="#6c7290"/></svg><span>STATUS</span></div>
<div class="abs th" style="left:765px;width:300px;justify-content:center;top:66.5px"><svg width="12" height="11" viewBox="0 0 12 11" fill="none" stroke="#6c7290" stroke-width="1.4"><path d="M0.8 0 V10.2 H12"/><path d="M2.8 6.8 L5.5 3.8 L7.5 5.6 L11 2"/></svg><span>TREND</span></div>
<div class="abs mi" style="left:8px;top:103px;background:#efb24b"><svg width="14" height="12" viewBox="0 0 14 12" fill="none" stroke="#fff" stroke-width="1.6"><path d="M4 2.5 L0.9 6 L4 9.5 M10 2.5 L13.1 6 L10 9.5 M8.2 1 L5.8 11"/></svg></div>
<div class="abs mn" style="left:44px;top:107px">Code Coverage</div>
<div class="abs mc cv" style="left:250.5px;top:107px">87.3%</div>
<div class="abs mc tg" style="left:393.5px;top:107px">90%</div>
<div class="abs mc chg" style="left:514.5px;top:107px;color:#2fbf85">+2.1%</div>
<div class="abs mc" style="left:668.5px;top:102px;height:30px"><span class="badge bt" style="letter-spacing:0.6px">ON TRACK</span></div>
<div class="abs tb" style="left:885px;top:114.5px"><i style="width:52px"></i></div>
<div class="abs mi" style="left:8px;top:153px;background:#34c38f"><svg width="14" height="14" viewBox="0 0 14 14"><circle cx="7" cy="7" r="6.5" fill="#fff"/><path d="M7 3.5 V7.3 L9.3 8.8" fill="none" stroke="#34c38f" stroke-width="1.5"/></svg></div>
<div class="abs mn" style="left:44px;top:157px">Sprint Velocity</div>
<div class="abs mc cv" style="left:250.5px;top:157px">42.5</div>
<div class="abs mc tg" style="left:393.5px;top:157px">45</div>
<div class="abs mc chg" style="left:514.5px;top:157px;color:#f46a6a">-1.8%</div>
<div class="abs mc" style="left:668.5px;top:152px;height:30px"><span class="badge bt" style="letter-spacing:0.2px">NEEDS ATTENTION</span></div>
<div class="abs tb" style="left:885px;top:164.5px"><i style="width:57px"></i></div>
<div class="abs mi" style="left:8px;top:203px;background:#50a5f1"><svg width="14" height="14" viewBox="0 0 14 14" fill="#fff"><ellipse cx="7" cy="8.3" rx="3.6" ry="4.6"/><circle cx="7" cy="3" r="2"/><path d="M1 5 L3.6 6.8 M13 5 L10.4 6.8 M0.6 9 H3.4 M13.4 9 H10.6 M1.4 13 L3.8 11 M12.6 13 L10.2 11" stroke="#fff" stroke-width="1.3"/></svg></div>
<div class="abs mn" style="left:44px;top:207px">Bug Resolution Time</div>
<div class="abs mc cv" style="left:250.5px;top:207px">2.3 days</div>
<div class="abs mc tg" style="left:393.5px;top:207px">2 days</div>
<div class="abs mc chg" style="left:514.5px;top:207px;color:#2fbf85">+15%</div>
<div class="abs mc" style="left:668.5px;top:202px;height:30px"><span class="badge be" style="letter-spacing:-0.3px">EXCELLENT</span></div>
<div class="abs tb" style="left:885px;top:214.5px"><i style="width:51px"></i></div>
<div class="abs mi" style="left:8px;top:253px;background:#efb24b"><svg width="18" height="13" viewBox="0 0 18 13" fill="#2f2a22"><circle cx="9" cy="3.2" r="2.6"/><circle cx="3.6" cy="4" r="2"/><circle cx="14.4" cy="4" r="2"/><path d="M4.5 13 C4.5 8.5 6.5 7 9 7 C11.5 7 13.5 8.5 13.5 13Z"/><path d="M0 11 C0 8.2 1.5 7.2 3.6 7.2 C4.6 7.2 5.2 7.5 5.6 7.9 C4.6 8.8 4 10 4 11Z"/><path d="M18 11 C18 8.2 16.5 7.2 14.4 7.2 C13.4 7.2 12.8 7.5 12.4 7.9 C13.4 8.8 14 10 14 11Z"/></svg></div>
<div class="abs mn" style="left:44px;top:257px">Team Satisfaction</div>
<div class="abs mc cv" style="left:250.5px;top:257px">8.7/10</div>
<div class="abs mc tg" style="left:393.5px;top:257px">8.5/10</div>
<div class="abs mc chg" style="left:514.5px;top:257px;color:#2fbf85">+3.2%</div>
<div class="abs mc" style="left:668.5px;top:252px;height:30px"><span class="badge be" style="letter-spacing:-0.3px">EXCELLENT</span></div>
<div class="abs tb" style="left:885px;top:264.5px"><i style="width:52px"></i></div>
<div class="abs mi" style="left:8px;top:303px;background:#f46a6a"><span style="color:#fff;font-weight:700;font-size:15px;line-height:1">$</span></div>
<div class="abs mn" style="left:44px;top:307px">Budget Utilization</div>
<div class="abs mc cv" style="left:250.5px;top:307px">78.4%</div>
<div class="abs mc tg" style="left:393.5px;top:307px">80%</div>
<div class="abs mc chg" style="left:514.5px;top:307px;color:#6c7290">+0.5%</div>
<div class="abs mc" style="left:668.5px;top:302px;height:30px"><span class="badge bt" style="letter-spacing:0.6px">ON TRACK</span></div>
<div class="abs tb" style="left:885px;top:314.5px"><i style="width:47px"></i></div>
<div class="abs mi" style="left:8px;top:353px;background:#74788d"><svg width="14" height="14" viewBox="0 0 14 14" fill="#fff"><path d="M13.5 0.5 C9.5 0.5 6.5 2.5 4.5 6 L2 6 L0.5 8 L3.6 8.6 L5.4 10.4 L6 13.5 L8 12 L8 9.5 C11.5 7.5 13.5 4.5 13.5 0.5Z"/><circle cx="9.8" cy="4.2" r="1.2" fill="#74788d"/><path d="M2.5 9.5 C1.3 10.5 0.8 12 0.6 13.4 C2 13.2 3.5 12.7 4.5 11.5Z"/></svg></div>
<div class="abs mn" style="left:44px;top:357px">Deployment Frequency</div>
<div class="abs mc cv" style="left:250.5px;top:357px">12/week</div>
<div class="abs mc tg" style="left:393.5px;top:357px">15/week</div>
<div class="abs mc chg" style="left:514.5px;top:357px;color:#f46a6a">-8.3%</div>
<div class="abs mc" style="left:668.5px;top:352px;height:30px"><span class="badge bt" style="letter-spacing:0.2px">NEEDS ATTENTION</span></div>
<div class="abs tb" style="left:885px;top:364.5px"><i style="width:48px"></i></div>
</div></div>
<div class="card" style="left:1151px;top:1251px;width:312px;height:373px"><div class="abs" style="left:0;top:-1px;width:312px;height:374px">
<div class="abs" style="left:12px;top:14px"><svg width="12" height="16" viewBox="0 0 12 16"><path d="M8.6 0.6 L0.6 9 H5.2 L3.4 15.4 L11.4 6.8 H6.8Z" fill="#f0b43c" stroke="#f0b43c" stroke-width="0.8" stroke-linejoin="round"/></svg></div>
<div class="abs" style="left:32px;top:13px;font-size:15px;font-weight:700;color:#414855">Quick Actions</div>
<div class="abs" style="left:0;top:44px;width:312px;height:2px;background:#eceef3"></div>
<div class="abs qb" style="left:16px;top:62px;background:#efb24b"><span class="qi"><svg width="12" height="12" viewBox="0 0 12 12" stroke="#fff" stroke-width="1.6"><path d="M6 0.5 V11.5 M0.5 6 H11.5"/></svg></span>New Task</div>
<div class="abs qb" style="left:16px;top:114px;background:#34c38f"><span class="qi"><svg width="16" height="13" viewBox="0 0 18 13" fill="#fff"><circle cx="9" cy="3.2" r="2.6"/><circle cx="3.6" cy="4" r="2"/><circle cx="14.4" cy="4" r="2"/><path d="M4.5 13 C4.5 8.5 6.5 7 9 7 C11.5 7 13.5 8.5 13.5 13Z"/><path d="M0 11 C0 8.2 1.5 7.2 3.6 7.2 C4.6 7.2 5.2 7.5 5.6 7.9 C4.6 8.8 4 10 4 11Z"/><path d="M18 11 C18 8.2 16.5 7.2 14.4 7.2 C13.4 7.2 12.8 7.5 12.4 7.9 C13.4 8.8 14 10 14 11Z"/></svg></span>Add Member</div>
<div class="abs qb" style="left:16px;top:166px;background:#50a5f1"><span class="qi"><svg width="11" height="13" viewBox="0 0 11 13" fill="#fff"><rect x="0" y="2" width="11" height="11" rx="1"/><rect x="2" y="0" width="1.6" height="3"/><rect x="7.4" y="0" width="1.6" height="3"/></svg></span>Schedule Meeting</div>
<div class="abs qb" style="left:16px;top:218px;background:#efb24b"><span class="qi"><svg width="10" height="13" viewBox="0 0 10 13"><path d="M0 0.8 Q0 0 0.8 0 H6.3 L10 3.7 V12.2 Q10 13 9.2 13 H0.8 Q0 13 0 12.2Z" fill="#fff"/><path d="M2.3 7 H7.7 M2.3 9.5 H7.7" stroke="#efb24b" stroke-width="1.1"/></svg></span>Create Report</div>
<div class="abs qb" style="left:16px;top:270px;background:#f46a6a"><span class="qi"><svg width="13" height="12" viewBox="0 0 13 12"><path d="M6.5 0.6 L12.6 11.4 H0.4Z" fill="#fff" stroke="#fff" stroke-linejoin="round"/><rect x="5.8" y="4" width="1.4" height="4" fill="#f46a6a"/><rect x="5.8" y="8.8" width="1.4" height="1.4" fill="#f46a6a"/></svg></span>Report Issue</div>
<div class="abs qb" style="left:16px;top:322px;background:#74788d"><span class="qi"><svg width="13" height="13" viewBox="0 0 24 24" fill="#fff"><path d="M19.4 13a7.5 7.5 0 0 0 0-2l2.1-1.6-2-3.5-2.5 1a7.3 7.3 0 0 0-1.7-1L15 3.3h-4l-.4 2.6a7.3 7.3 0 0 0-1.7 1l-2.5-1-2 3.5L6.5 11a7.5 7.5 0 0 0 0 2l-2.1 1.6 2 3.5 2.5-1a7.3 7.3 0 0 0 1.7 1l.4 2.6h4l.4-2.6a7.3 7.3 0 0 0 1.7-1l2.5 1 2-3.5zM13 15.5a3.5 3.5 0 1 1 0-7 3.5 3.5 0 0 1 0 7z" transform="translate(-1 0)"/></svg></span>Settings</div>
</div></div>
<div id="footer"></div>
<div class="ft" style="left:141px">2025 &copy; DeepOcean.</div>
<div class="ft" style="right:141px">Design &amp; Develop by Bittyfox</div>
</body>
</html>
